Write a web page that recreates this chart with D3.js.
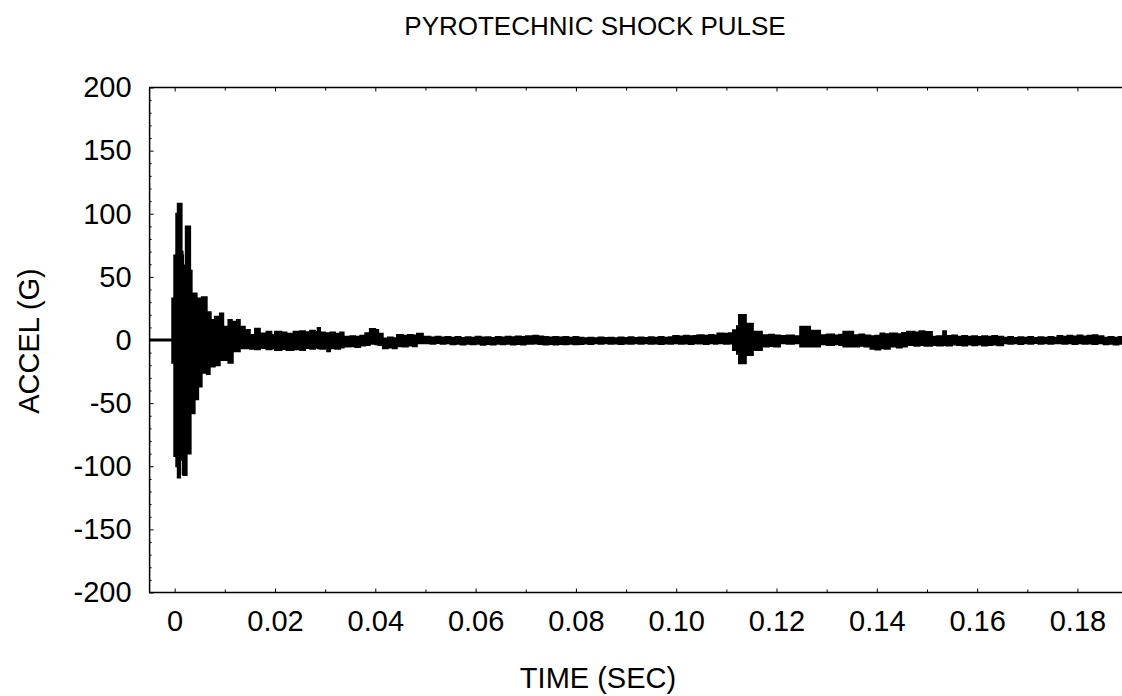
<!DOCTYPE html>
<html>
<head>
<meta charset="utf-8">
<script src="https://cdn.jsdelivr.net/npm/d3@7"></script>
<style>
	body{margin:0;overflow:hidden;background:#fff;}
	text{font-family:"Liberation Sans", Arial, sans-serif;fill:#000;}
</style>
</head>
<body>
<svg id="chart" width="1122" height="696"></svg>
<script>

// envelope of the accelerometer trace (seconds, g)
var sampleTime = [
	-0.0053, -0.0005, -0.0001, 0.0003, 0.0006, 0.0011, 0.0014, 0.0016, 0.0017, 0.0022,
	0.0024, 0.0031, 0.0032, 0.0034, 0.0035, 0.0040, 0.0044, 0.0047, 0.0054, 0.0064,
	0.0070, 0.0072, 0.0080, 0.0090, 0.0097, 0.0107, 0.0114, 0.0116, 0.0124, 0.0130,
	0.0140, 0.0150, 0.0160, 0.0170, 0.0183, 0.0193, 0.0200, 0.0213, 0.0223, 0.0237,
	0.0250, 0.0260, 0.0270, 0.0280, 0.0285, 0.0290, 0.0300, 0.0304, 0.0310, 0.0320,
	0.0330, 0.0337, 0.0350, 0.0360, 0.0370, 0.0380, 0.0389, 0.0400, 0.0406, 0.0415,
	0.0425, 0.0435, 0.0443, 0.0455, 0.0465, 0.0475, 0.0483, 0.0495, 0.0510, 0.0520,
	0.0530, 0.0540, 0.0550, 0.0560, 0.0570, 0.0580, 0.0590, 0.0600, 0.0610, 0.0620,
	0.0630, 0.0640, 0.0650, 0.0660, 0.0670, 0.0680, 0.0690, 0.0700, 0.0715, 0.0725,
	0.0735, 0.0745, 0.0755, 0.0765, 0.0775, 0.0785, 0.0795, 0.0805, 0.0815, 0.0825,
	0.0835, 0.0845, 0.0855, 0.0865, 0.0875, 0.0885, 0.0895, 0.0905, 0.0915, 0.0925,
	0.0935, 0.0945, 0.0955, 0.0965, 0.0975, 0.0985, 0.0994, 0.1005, 0.1015, 0.1025,
	0.1035, 0.1042, 0.1055, 0.1065, 0.1075, 0.1082, 0.1095, 0.1105, 0.1113, 0.1121,
	0.1125, 0.1139, 0.1153, 0.1171, 0.1185, 0.1195, 0.1207, 0.1220, 0.1235, 0.1247,
	0.1267, 0.1287, 0.1300, 0.1315, 0.1325, 0.1333, 0.1353, 0.1365, 0.1375, 0.1387,
	0.1397, 0.1407, 0.1415, 0.1426, 0.1440, 0.1450, 0.1460, 0.1475, 0.1485, 0.1495,
	0.1510, 0.1520, 0.1532, 0.1538, 0.1550, 0.1560, 0.1570, 0.1580, 0.1590, 0.1600,
	0.1610, 0.1620, 0.1630, 0.1640, 0.1652, 0.1662, 0.1672, 0.1682, 0.1692, 0.1702,
	0.1712, 0.1722, 0.1732, 0.1742, 0.1752, 0.1760, 0.1770, 0.1780, 0.1790, 0.1800,
	0.1810, 0.1820, 0.1830, 0.1840, 0.1852, 0.1862, 0.1872, 0.1882, 0.1895
];

// positive peaks (g)
var peakHigh = [
	0.5, 33, 67, 100, 108, 108, 70, 67, 59, 90,
	90, 55, 55, 37, 37, 37, 33, 33, 34, 22,
	22, 16, 18.5, 21, 10.5, 16, 14.5, 14.5, 16, 10.5,
	8, 4, 9, 5.3, 6.6, 4, 6.6, 6, 5, 6.6,
	7, 6.2, 7.4, 6.5, 9.5, 6, 5.5, 5.5, 6, 5,
	6, 2.6, 3, 2.6, 3.5, 5.5, 8.7, 8, 5, 1.3,
	2, 1.5, 4, 3.5, 4, 3.6, 5, 2.6, 2, 2.6,
	2, 2.4, 1.8, 2.5, 1.6, 2.2, 1.8, 2.6, 2, 2.3,
	1.7, 2.4, 2, 2.6, 2.2, 2.8, 2.4, 3, 3.4, 2.8,
	2.4, 2, 2.5, 2, 2.4, 1.8, 2.4, 1.8, 1.4, 1.8,
	1.4, 2, 1.6, 1.8, 1.4, 2, 1.6, 2.2, 1.6, 2,
	1.6, 2.2, 1.8, 2.4, 1.8, 2.2, 3.2, 2.8, 3.4, 3,
	3.3, 3.9, 3.5, 4, 3.6, 5.3, 5, 5.4, 7.9, 11,
	19.8, 13, 6.6, 3.9, 4.2, 3.6, 3.2, 3.6, 3, 10.5,
	7.4, 3.9, 4.4, 3.6, 4.2, 6.6, 3.9, 4.4, 3.6, 3,
	3.4, 5.3, 4.6, 5.3, 4.6, 5.6, 6.6, 6, 7, 6.4,
	2.6, 3, 7.1, 3.2, 3.6, 2.6, 3.2, 2.6, 3, 2.4,
	3, 2.6, 3.2, 2.6, 1.8, 2.4, 1.6, 2.2, 1.8, 2.4,
	1.6, 2.2, 1.8, 2.4, 1.8, 3.2, 2.6, 3.4, 2.8, 3.6,
	2.8, 3.4, 3.8, 3, 1.8, 2.4, 1.8, 2.4, 2
];

// negative peaks (g)
var peakLow = [
	-0.5, -18, -92, -100, -109, -95, -95, -106, -107, -107,
	-90, -90, -42, -42, -58, -47, -47, -37, -26, -27,
	-21, -21, -20, -16, -16, -18, -18, -9, -9, -6.6,
	-6.6, -7, -7.4, -6.5, -7.4, -6.8, -8, -7.2, -8, -7.5,
	-8, -6.5, -7, -6, -6.6, -7, -6, -9, -6.6, -7,
	-6, -5.3, -5, -5.6, -4.5, -4, -3, -3.5, -4, -6.6,
	-6, -6.6, -5, -5.3, -4.5, -5, -2.6, -2.6, -3, -2.4,
	-3, -2.6, -3.4, -3, -3.6, -3, -3.5, -3, -3.8, -3.2,
	-3.6, -3, -3.4, -3, -3.6, -3.2, -3.6, -3, -2.8, -3.2,
	-3.6, -3.2, -3.6, -3.2, -3.5, -3, -3.4, -3.2, -2.8, -3.2,
	-2.6, -3, -2.6, -3, -2.8, -3.2, -2.8, -3, -2.6, -3,
	-2.6, -3, -2.8, -3.2, -2.8, -3, -2.6, -3, -2.8, -3.2,
	-2.6, -2.8, -3.2, -2.6, -3, -2.6, -3, -2.8, -8, -11,
	-18.5, -12, -8, -5.3, -4.8, -5.3, -2.6, -3, -2.6, -5.3,
	-5.3, -3.5, -4, -3.4, -4, -5.3, -5.3, -4.6, -5.3, -7,
	-7.6, -6.6, -7, -5.3, -6, -5.3, -4, -4.6, -4, -4.6,
	-4, -4.5, -4, -4.4, -3.6, -4, -4.4, -3.6, -4.2, -3.6,
	-4.4, -4, -3.6, -4.2, -2.6, -3, -2.6, -3.2, -2.6, -3,
	-2.4, -3, -2.6, -3, -2.6, -2.6, -3, -2.6, -3.2, -2.6,
	-3, -2.8, -3.2, -2.6, -3.4, -3, -3.6, -3, -3.4
];

var xTickValues = [0, 0.02, 0.04, 0.06, 0.08, 0.10, 0.12, 0.14, 0.16, 0.18];
var xTickLabels = ["0", "0.02", "0.04", "0.06", "0.08", "0.10", "0.12", "0.14", "0.16", "0.18"];
var xMinorValues = [0.01, 0.03, 0.05, 0.07, 0.09, 0.11, 0.13, 0.15, 0.17];
var yTickValues = [-200, -150, -100, -50, 0, 50, 100, 150, 200];
var yTickLabels = ["-200", "-150", "-100", "-50", "0", "50", "100", "150", "200"];

var svg = d3.select("#chart");

// plot box (right edge falls just outside the window)
var plotLeft = 149.6, plotRight = 1127.6, plotTop = 87.5, plotBottom = 592.5;

var x = d3.scaleLinear().domain([-0.005, 0.19]).range([plotLeft, plotRight]);
var y = d3.scaleLinear().domain([-200, 200]).range([plotBottom, plotTop]);

svg.append("clipPath").attr("id", "plotclip")
	.append("rect")
	.attr("x", plotLeft).attr("y", plotTop)
	.attr("width", plotRight - plotLeft).attr("height", plotBottom - plotTop);

// trace envelope, drawn as two stepped areas above and below zero
var highArea = d3.area()
	.curve(d3.curveStepAfter)
	.x(function(d, i){ return x(sampleTime[i]); })
	.y0(y(0))
	.y1(function(d){ return y(d); });

var lowArea = d3.area()
	.curve(d3.curveStepAfter)
	.x(function(d, i){ return x(sampleTime[i]); })
	.y0(function(d){ return y(d); })
	.y1(y(0));

var trace = svg.append("g").attr("clip-path", "url(#plotclip)");
trace.append("path").datum(peakHigh)
	.attr("d", highArea)
	.attr("fill", "#000").attr("stroke", "#000").attr("stroke-width", 1.8);
trace.append("path").datum(peakLow)
	.attr("d", lowArea)
	.attr("fill", "#000").attr("stroke", "#000").attr("stroke-width", 1.8);

// axes, ticks point inward
var fontSize = 29;

svg.append("g")
	.attr("transform", "translate(0," + plotBottom + ")")
	.call(d3.axisBottom(x).tickValues(xTickValues)
		.tickFormat(function(d, i){ return xTickLabels[i]; })
		.tickSize(-4).tickPadding(18));
svg.append("g")
	.attr("transform", "translate(0," + plotBottom + ")")
	.call(d3.axisBottom(x).tickValues(xMinorValues).tickFormat("").tickSize(-3));

svg.append("g")
	.attr("transform", "translate(0," + plotTop + ")")
	.call(d3.axisTop(x).tickValues(xTickValues).tickFormat("").tickSize(-4));
svg.append("g")
	.attr("transform", "translate(0," + plotTop + ")")
	.call(d3.axisTop(x).tickValues(xMinorValues).tickFormat("").tickSize(-3));

var yMinor = d3.range(-190, 200, 10).filter(function(v){ return v % 50 != 0; });

svg.append("g")
	.attr("transform", "translate(" + plotLeft + ",0)")
	.call(d3.axisLeft(y).tickValues(yTickValues)
		.tickFormat(function(d, i){ return yTickLabels[i]; })
		.tickSize(-4).tickPadding(18));
svg.append("g")
	.attr("transform", "translate(" + plotLeft + ",0)")
	.call(d3.axisLeft(y).tickValues(yMinor).tickFormat("").tickSize(-2));

svg.selectAll(".domain").remove();
svg.selectAll(".tick line").attr("stroke", "#000").attr("stroke-width", 1);
svg.selectAll(".tick text")
	.style("font-family", "'Liberation Sans', Arial, sans-serif")
	.attr("font-size", fontSize);

// plot frame
svg.append("rect")
	.attr("x", plotLeft).attr("y", plotTop)
	.attr("width", plotRight - plotLeft).attr("height", plotBottom - plotTop)
	.attr("fill", "none").attr("stroke", "#000").attr("stroke-width", 1.5);

// titles
svg.append("text")
	.attr("x", 595).attr("y", 35)
	.attr("text-anchor", "middle")
	.attr("font-size", 26)
	.text("PYROTECHNIC SHOCK PULSE");

svg.append("text")
	.attr("x", 598).attr("y", 688)
	.attr("text-anchor", "middle")
	.attr("font-size", fontSize)
	.text("TIME (SEC)");

svg.append("text")
	.attr("transform", "translate(39,341) rotate(-90)")
	.attr("text-anchor", "middle")
	.attr("font-size", fontSize)
	.text("ACCEL (G)");

</script>
</body>
</html>
